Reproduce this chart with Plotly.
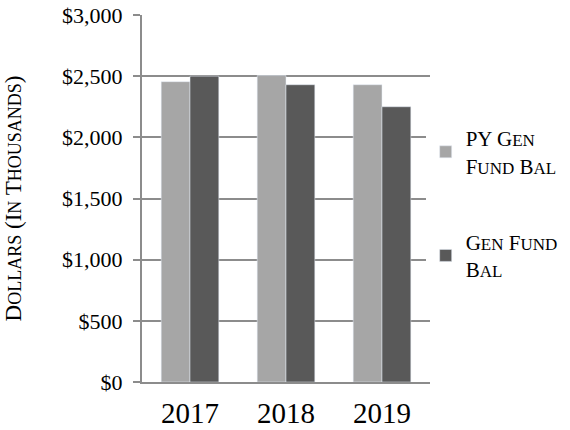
import re
import plotly.graph_objects as go

years = ["2017", "2018", "2019"]
py_gen_fund_bal = [2455, 2505, 2430]
gen_fund_bal = [2500, 2430, 2250]
y_ticks = [0, 500, 1000, 1500, 2000, 2500, 3000]
y_tick_labels = ["$0", "$500", "$1,000", "$1,500", "$2,000", "$2,500", "$3,000"]

FONT = "Liberation Serif"
GRID = "#8c8c8c"

def sc(text, small=14):
    parts = re.split(r"(<br>)", text)
    out = []
    for p in parts:
        if p == "<br>":
            out.append(p)
            continue
        for ch in p:
            if ch.islower():
                out.append(f"<span style='font-size:{small}px'>{ch.upper()}</span>")
            else:
                out.append(ch)
    return "".join(out)

fig = go.Figure()
fig.add_trace(go.Bar(x=years, y=py_gen_fund_bal, name=sc("PY Gen<br>Fund Bal", 17),
                     marker=dict(color="#a6a6a6"), legendgroup="a"))
fig.add_trace(go.Bar(x=years, y=gen_fund_bal, name=sc("Gen Fund<br>Bal", 17),
                     marker=dict(color="#595959"), legendgroup="b"))

fig.update_layout(
    width=570, height=430,
    margin=dict(l=142, r=140, t=15, b=48, autoexpand=False),
    paper_bgcolor="white", plot_bgcolor="white",
    barmode="group", bargap=0.4, bargroupgap=0,
    font=dict(family=FONT, color="black"),
    showlegend=True,
    legend=dict(x=0.985, xanchor="left", y=0.485, yanchor="middle",
                font=dict(family=FONT, size=21, color="black"),
                tracegroupgap=46, traceorder="grouped", itemwidth=30),
    xaxis=dict(showline=True, linecolor=GRID, linewidth=2, ticks="",
               tickfont=dict(size=29, family=FONT), showgrid=False,
               ticklabelstandoff=4),
    yaxis=dict(range=[0, 3000], tickvals=y_ticks, ticktext=y_tick_labels,
               tickfont=dict(size=22, family=FONT),
               showgrid=True, gridcolor=GRID, gridwidth=2,
               showline=True, linecolor=GRID, linewidth=2,
               ticks="outside", ticklen=7, tickcolor=GRID, tickwidth=2,
               ticklabelstandoff=6,
               zeroline=False,
               title=dict(text=sc("Dollars (In Thousands)", 18), font=dict(size=23, family=FONT), standoff=34)),
)
fig.write_html("out.html")
